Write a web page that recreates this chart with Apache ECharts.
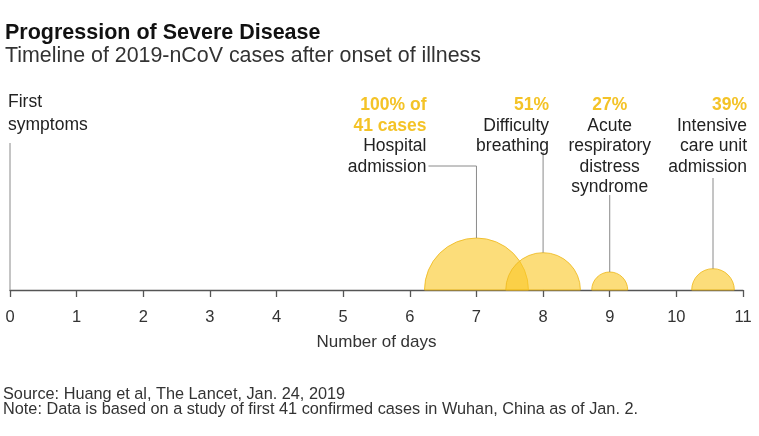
<!DOCTYPE html>
<html><head><meta charset="utf-8">
<script src="https://cdn.jsdelivr.net/npm/echarts@6/dist/echarts.min.js"></script>
<style>html,body{margin:0;padding:0;background:#fff}#c{width:759px;height:436px}</style>
</head><body><div id="c"></div>
<script>
// Data
const days = [0, 7, 8, 9, 10.55];
const pctLabels = ['', '100% of\n41 cases', '51%', '27%', '39%'];
const eventLabels = ['First\nsymptoms', 'Hospital\nadmission', 'Difficulty\nbreathing', 'Acute\nrespiratory\ndistress\nsyndrome', 'Intensive\ncare unit\nadmission'];
const radiusDays = [0, 0.78, 0.56, 0.27, 0.32];
const xTickLabels = ['0','1','2','3','4','5','6','7','8','9','10','11'];

// Label layout (styling only, pixel offsets relative to each point)
const labelAlign = ['left', 'right', 'right', 'center', 'right'];
const labelDx = [-2, -50, 6, 0, 34];
const labelTopDy = [-199, -195, -195, -195, -195];
const labelLineH = [23, 20.5, 20.5, 20.5, 20.5];
const leaderTopDy = [-147, -124, -138, -95, -112];
const leaderElbowDx = [0, -48, 0, 0, 0];

const FONT = '"Liberation Sans", Arial, sans-serif';
const chart = echarts.init(document.getElementById('c'), null, {renderer: 'canvas'});

const data = days.map((d, i) => [d, radiusDays[i]]);

chart.setOption({
  animation: false,
  backgroundColor: '#fff',
  textStyle: {fontFamily: FONT},
  grid: {left: 10, right: 16, top: 90, bottom: 146, containLabel: false, outerBoundsMode: 'none'},
  xAxis: {
    type: 'value', min: 0, max: 11, interval: 1,
    axisLine: {show: true, lineStyle: {color: '#555', width: 1.3}},
    axisTick: {show: true, length: 7, lineStyle: {color: '#555', width: 1.3}},
    axisLabel: {color: '#333', fontSize: 16.5, margin: 19, fontFamily: FONT,
      formatter: v => xTickLabels[Math.round(v)]},
    splitLine: {show: false},
    name: 'Number of days', nameLocation: 'middle', nameGap: 44,
    nameTextStyle: {color: '#333', fontSize: 17, fontFamily: FONT}
  },
  yAxis: {type: 'value', min: 0, max: 1, show: false},
  graphic: [
    {type: 'text', left: 5, top: 22, style: {text: 'Progression of Severe Disease', font: 'bold 21.5px ' + FONT, fill: '#111'}},
    {type: 'text', left: 5, top: 46, style: {text: 'Timeline of 2019-nCoV cases after onset of illness', font: '21.4px ' + FONT, fill: '#333'}},
    {type: 'text', left: 3, top: 387, style: {text: 'Source: Huang et al, The Lancet, Jan. 24, 2019', font: '16.3px ' + FONT, fill: '#333'}},
    {type: 'text', left: 3, top: 402, style: {text: 'Note: Data is based on a study of first 41 confirmed cases in Wuhan, China as of Jan. 2.', font: '16.3px ' + FONT, fill: '#333'}}
  ],
  series: [{
    type: 'custom',
    coordinateSystem: 'cartesian2d',
    clip: false,
    z: 3,
    data: data,
    renderItem: function (params, api) {
      const i = params.dataIndex;
      const c = api.coord([api.value(0), 0]);
      const r = api.size([api.value(1), 0])[0];
      const children = [];
      if (r > 0) {
        children.push({
          type: 'sector', z2: 1,
          shape: {cx: c[0], cy: c[1], r: r, r0: 0, startAngle: Math.PI, endAngle: 2 * Math.PI, clockwise: true},
          style: {fill: 'rgba(250,200,40,0.62)', stroke: 'rgba(238,186,30,0.85)', lineWidth: 1}
        });
      }
      const top = c[1] - r;
      const pts = [];
      if (leaderElbowDx[i] !== 0) {
        pts.push([c[0] + leaderElbowDx[i], c[1] + leaderTopDy[i]]);
      }
      pts.push([c[0], c[1] + leaderTopDy[i]]);
      pts.push([c[0], top]);
      children.push({type: 'polyline', z2: 2, shape: {points: pts}, style: {stroke: '#8a8a8a', lineWidth: 1, fill: null}});
      const tx = c[0] + labelDx[i];
      let ty = c[1] + labelTopDy[i];
      const pct = pctLabels[i];
      if (pct) {
        children.push({type: 'text', z2: 3, x: tx, y: ty, style: {
          text: pct, fill: '#f4c327', font: 'bold 17.5px ' + FONT, align: labelAlign[i], verticalAlign: 'top', lineHeight: labelLineH[i]
        }});
        ty += pct.split('\n').length * labelLineH[i];
      }
      children.push({type: 'text', z2: 3, x: tx, y: ty, style: {
        text: eventLabels[i], fill: '#222', font: '17.5px ' + FONT, align: labelAlign[i], verticalAlign: 'top', lineHeight: labelLineH[i]
      }});
      return {type: 'group', children: children};
    }
  }]
});
</script></body></html>
